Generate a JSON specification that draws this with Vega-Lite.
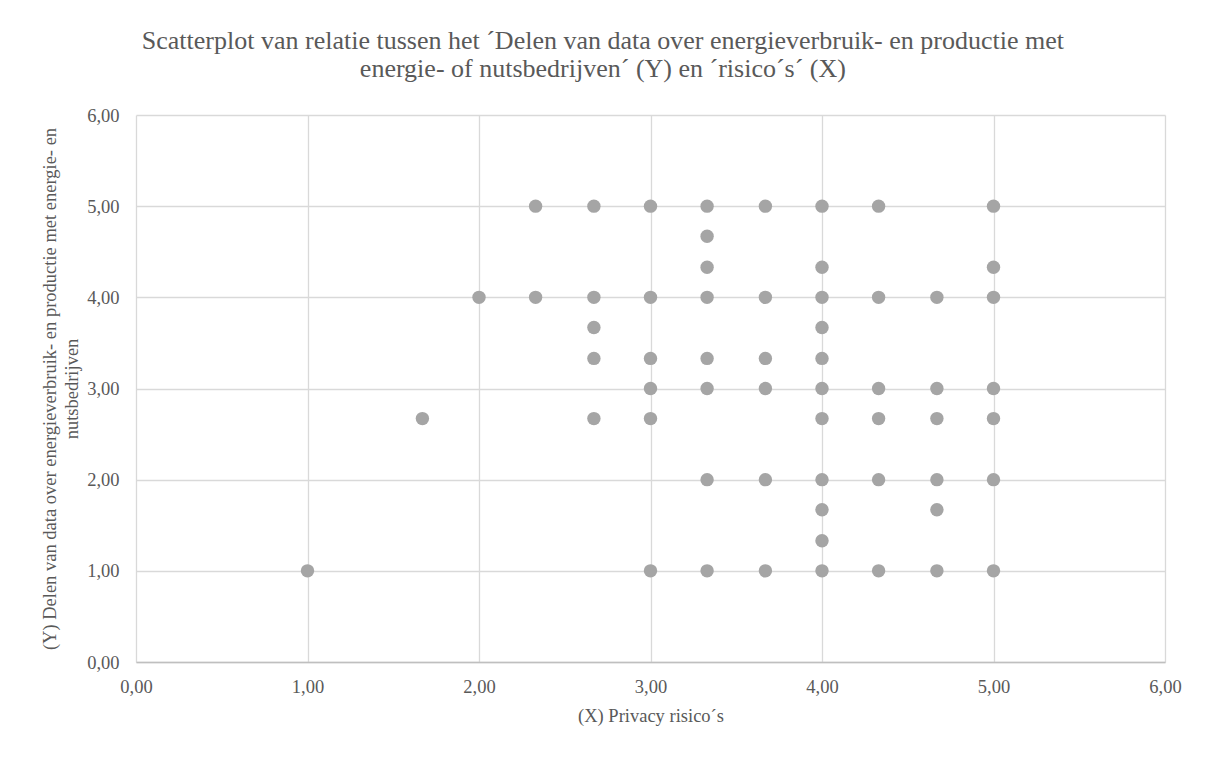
{
  "$schema": "https://vega.github.io/schema/vega-lite/v6.json",
  "width": 1029,
  "height": 547,
  "autosize": {"type": "none"},
  "padding": {"left": 136, "top": 115, "right": 47, "bottom": 96},
  "background": "#ffffff",
  "title": {
    "text": [
      "Scatterplot van relatie tussen het ´Delen van data over energieverbruik- en productie met",
      "energie- of nutsbedrijven´ (Y) en ´risico´s´ (X)"
    ],
    "font": "Liberation Serif",
    "fontSize": 26,
    "fontWeight": "normal",
    "color": "#595959",
    "anchor": "middle",
    "frame": "bounds",
    "dx": -8,
    "lineHeight": 28,
    "offset": 24
  },
  "data": {
    "values": [
      {"risico": 1.00, "delen": 1.00},
      {"risico": 1.67, "delen": 2.67},
      {"risico": 2.00, "delen": 4.00},
      {"risico": 2.33, "delen": 5.00},
      {"risico": 2.33, "delen": 4.00},
      {"risico": 2.67, "delen": 5.00},
      {"risico": 2.67, "delen": 4.00},
      {"risico": 2.67, "delen": 3.67},
      {"risico": 2.67, "delen": 3.33},
      {"risico": 2.67, "delen": 2.67},
      {"risico": 3.00, "delen": 5.00},
      {"risico": 3.00, "delen": 4.00},
      {"risico": 3.00, "delen": 3.33},
      {"risico": 3.00, "delen": 3.00},
      {"risico": 3.00, "delen": 2.67},
      {"risico": 3.00, "delen": 1.00},
      {"risico": 3.33, "delen": 5.00},
      {"risico": 3.33, "delen": 4.67},
      {"risico": 3.33, "delen": 4.33},
      {"risico": 3.33, "delen": 4.00},
      {"risico": 3.33, "delen": 3.33},
      {"risico": 3.33, "delen": 3.00},
      {"risico": 3.33, "delen": 2.00},
      {"risico": 3.33, "delen": 1.00},
      {"risico": 3.67, "delen": 5.00},
      {"risico": 3.67, "delen": 4.00},
      {"risico": 3.67, "delen": 3.33},
      {"risico": 3.67, "delen": 3.00},
      {"risico": 3.67, "delen": 2.00},
      {"risico": 3.67, "delen": 1.00},
      {"risico": 4.00, "delen": 5.00},
      {"risico": 4.00, "delen": 4.33},
      {"risico": 4.00, "delen": 4.00},
      {"risico": 4.00, "delen": 3.67},
      {"risico": 4.00, "delen": 3.33},
      {"risico": 4.00, "delen": 3.00},
      {"risico": 4.00, "delen": 2.67},
      {"risico": 4.00, "delen": 2.00},
      {"risico": 4.00, "delen": 1.67},
      {"risico": 4.00, "delen": 1.33},
      {"risico": 4.00, "delen": 1.00},
      {"risico": 4.33, "delen": 5.00},
      {"risico": 4.33, "delen": 4.00},
      {"risico": 4.33, "delen": 3.00},
      {"risico": 4.33, "delen": 2.67},
      {"risico": 4.33, "delen": 2.00},
      {"risico": 4.33, "delen": 1.00},
      {"risico": 4.67, "delen": 4.00},
      {"risico": 4.67, "delen": 3.00},
      {"risico": 4.67, "delen": 2.67},
      {"risico": 4.67, "delen": 2.00},
      {"risico": 4.67, "delen": 1.67},
      {"risico": 4.67, "delen": 1.00},
      {"risico": 5.00, "delen": 5.00},
      {"risico": 5.00, "delen": 4.33},
      {"risico": 5.00, "delen": 4.00},
      {"risico": 5.00, "delen": 3.00},
      {"risico": 5.00, "delen": 2.67},
      {"risico": 5.00, "delen": 2.00},
      {"risico": 5.00, "delen": 1.00}
    ]
  },
  "mark": {"type": "point", "shape": "circle", "filled": true, "size": 180, "color": "#a5a5a5", "opacity": 1},
  "encoding": {
    "x": {
      "field": "risico",
      "type": "quantitative",
      "scale": {"domain": [0, 6], "nice": false, "zero": false},
      "axis": {
        "title": "(X) Privacy risico´s",
        "values": [0, 1, 2, 3, 4, 5, 6],
        "labelExpr": "replace(format(datum.value, '.2f'), '.', ',')",
        "ticks": false,
        "labelPadding": 15,
        "titlePadding": 11,
        "domainColor": "#bfbfbf",
        "domainWidth": 1.5
      }
    },
    "y": {
      "field": "delen",
      "type": "quantitative",
      "scale": {"domain": [0, 6], "nice": false, "zero": false},
      "axis": {
        "title": [
          "(Y) Delen van data over energieverbruik- en productie met energie- en",
          "nutsbedrijven"
        ],
        "values": [0, 1, 2, 3, 4, 5, 6],
        "labelExpr": "replace(format(datum.value, '.2f'), '.', ',')",
        "ticks": false,
        "domain": false,
        "labelPadding": 17,
        "titlePadding": 5,
        "titleLineHeight": 22
      }
    }
  },
  "config": {
    "view": {"stroke": null},
    "axis": {
      "labelFont": "Liberation Serif",
      "labelFontSize": 18.5,
      "labelColor": "#595959",
      "titleFont": "Liberation Serif",
      "titleFontSize": 18.5,
      "titleFontWeight": "normal",
      "titleColor": "#595959",
      "gridColor": "#d9d9d9",
      "gridWidth": 1.3,
      "labelFlush": false,
      "labelOverlap": false
    }
  }
}
